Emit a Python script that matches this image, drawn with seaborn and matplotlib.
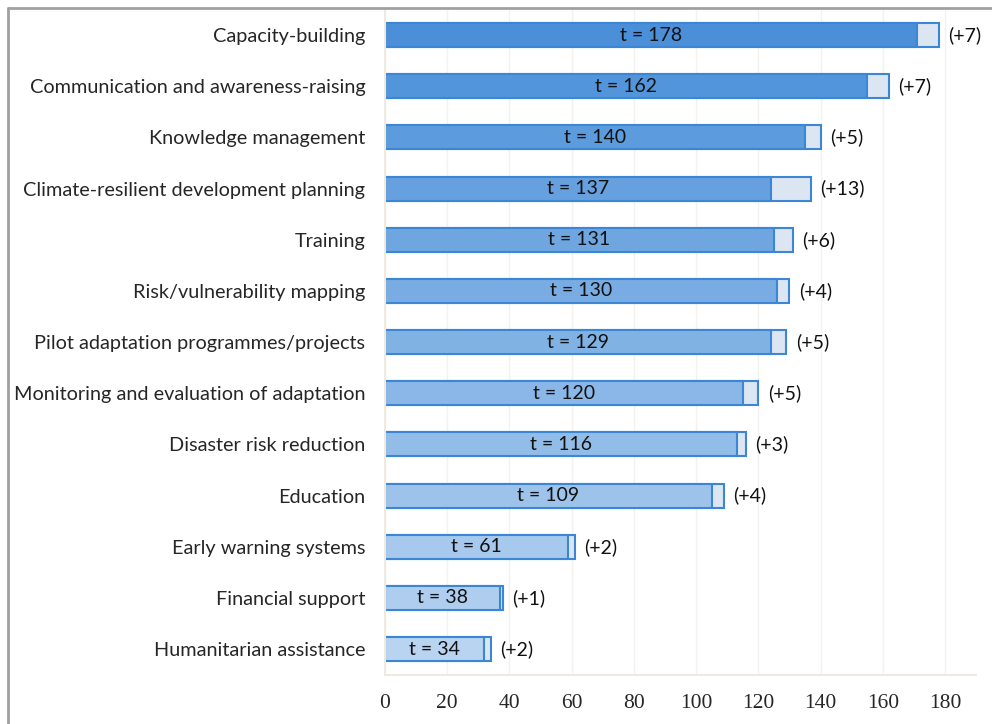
import numpy as np
import pandas as pd
import matplotlib.pyplot as plt
import matplotlib.colors as mcolors
from matplotlib.lines import Line2D
import seaborn as sns

# Dados
categorias = ['Capacity-building', 'Communication and awareness-raising',
              'Knowledge management', 'Climate-resilient development planning',
              'Training', 'Risk/vulnerability mapping',
              'Pilot adaptation programmes/projects',
              'Monitoring and evaluation of adaptation',
              'Disaster risk reduction', 'Education', 'Early warning systems',
              'Financial support', 'Humanitarian assistance']
totais = [178, 162, 140, 137, 131, 130, 129, 120, 116, 109, 61, 38, 34]
incrementos = [7, 7, 5, 13, 6, 4, 5, 5, 3, 4, 2, 1, 2]
ticks_x = [0, 20, 40, 60, 80, 100, 120, 140, 160, 180]

df = pd.DataFrame({'categoria': categorias, 'total': totais, 'inc': incrementos})
df['base'] = df['total'] - df['inc']

sns.set_style('white')
plt.rcParams['font.family'] = ['Lato', 'DejaVu Sans']

# gradiente azul (escuro em cima, claro embaixo)
c1 = np.array(mcolors.to_rgb('#4a8fd8'))
c2 = np.array(mcolors.to_rgb('#b8d4f1'))
n = len(df)
paleta = [tuple(c1 + (c2 - c1) * i / (n - 1)) for i in range(n)]
borda = '#3c86d6'
eixo = '#eeeae0'

fig = plt.figure(figsize=(9.92, 7.24), dpi=100)
ax = fig.add_axes([0.388, 0.068, 0.596, 0.919])

sns.barplot(data=df, x='total', y='categoria', color='#dce6f2', width=0.47,
            saturation=1, edgecolor=borda, linewidth=1.5, ax=ax, orient='h')
sns.barplot(data=df, x='base', y='categoria', hue='categoria', palette=paleta,
            saturation=1, legend=False, width=0.47, edgecolor=borda,
            linewidth=1.5, ax=ax, orient='h')

for i, row in df.iterrows():
    ax.text(row['base'] / 2, i, f"t = {row['total']}", ha='center', va='center',
            fontsize=14, color='#111111')
    ax.text(row['total'] + 3, i, f"(+{row['inc']})", ha='left', va='center',
            fontsize=14, color='#111111')

ax.set_xlim(0, 190)
ax.set_ylim(n - 0.5, -0.5)
ax.set_xticks(ticks_x)
ax.set_xticklabels([str(t) for t in ticks_x], fontsize=15.5,
                   family='Liberation Serif')
ax.tick_params(axis='y', labelsize=14.3, length=0, pad=14)
ax.set_yticks(range(n))
ax.set_yticks(np.arange(-0.5, n, 1), minor=True)
ax.tick_params(axis='y', which='minor', length=6, color=eixo, width=1.5)
ax.tick_params(axis='x', length=6, color=eixo, width=1.5, pad=8)
ax.set_xlabel('')
ax.set_ylabel('')
ax.grid(axis='x', color='#f4f2ee', linewidth=1)
ax.set_axisbelow(True)
for lado in ['top', 'right']:
    ax.spines[lado].set_visible(False)
for lado in ['left', 'bottom']:
    ax.spines[lado].set_color(eixo)
    ax.spines[lado].set_linewidth(1.5)

# moldura
fig.add_artist(Line2D([0.008, 1.0], [0.989, 0.989], color='#a0a0a0', lw=2))
fig.add_artist(Line2D([0.008, 0.008], [0.0, 0.989], color='#a0a0a0', lw=2))

plt.savefig('out.png', dpi=100)
